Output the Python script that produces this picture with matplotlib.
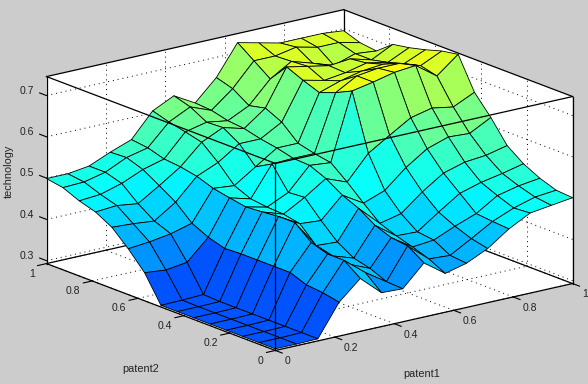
#surface of technology against patent1 and patent2
import numpy as np
import matplotlib
matplotlib.use('Agg')
import matplotlib.pyplot as plt
from matplotlib.colors import LinearSegmentedColormap
from mpl_toolkits.mplot3d import proj3d
from mpl_toolkits.mplot3d.art3d import Poly3DCollection

plt.rcParams['font.family'] = ['Liberation Sans', 'DejaVu Sans']

patent1 = [0, 0.0714, 0.1429, 0.2143, 0.2857, 0.3571, 0.4286, 0.5, 0.5714, 0.6429, 0.7143, 0.7857, 0.8571, 0.9286, 1]
patent2 = [0, 0.0714, 0.1429, 0.2143, 0.2857, 0.3571, 0.4286, 0.5, 0.5714, 0.6429, 0.7143, 0.7857, 0.8571, 0.9286, 1]

#rows are patent2, columns are patent1
technology = [
    [.297, .297, .298, .375, .421, .375, .373, .424, .387, .400, .424, .460, .487, .494, .501],
    [.297, .297, .298, .383, .450, .409, .375, .450, .407, .404, .433, .463, .484, .499, .504],
    [.297, .297, .298, .387, .450, .414, .392, .455, .421, .426, .448, .467, .499, .511, .518],
    [.297, .297, .298, .402, .463, .419, .402, .470, .433, .431, .467, .501, .516, .526, .538],
    [.297, .297, .298, .402, .496, .429, .426, .496, .448, .460, .501, .535, .550, .555, .567],
    [.297, .297, .298, .402, .496, .467, .463, .513, .482, .501, .545, .579, .596, .593, .620],
    [.297, .297, .298, .402, .492, .475, .504, .538, .518, .576, .608, .639, .651, .642, .666],
    [.297, .298, .300, .400, .489, .477, .501, .555, .550, .712, .722, .734, .739, .702, .743],
    [.361, .356, .363, .412, .496, .482, .555, .557, .557, .693, .722, .729, .729, .712, .736],
    [.404, .409, .417, .431, .504, .499, .533, .567, .567, .678, .695, .707, .712, .702, .724],
    [.441, .438, .433, .467, .518, .540, .574, .574, .603, .693, .681, .688, .700, .690, .714],
    [.463, .467, .460, .492, .526, .574, .598, .584, .622, .710, .700, .690, .695, .681, .707],
    [.475, .479, .494, .516, .530, .584, .596, .588, .613, .666, .697, .681, .664, .681, .676],
    [.492, .494, .506, .530, .542, .593, .618, .598, .639, .695, .695, .705, .693, .693, .681],
    [.499, .499, .506, .528, .547, .605, .630, .601, .651, .724, .712, .700, .700, .700, .695],
]

xy_ticks = [0, 0.2, 0.4, 0.6, 0.8, 1]
xy_labels = ['0', '0.2', '0.4', '0.6', '0.8', '1']
z_ticks = [0.3, 0.4, 0.5, 0.6, 0.7]
z_labels = ['0.3', '0.4', '0.5', '0.6', '0.7']

zmin = 0.293
zmax = 0.746

fig = plt.figure(figsize=(5.88, 3.84), dpi=100, facecolor='#cccccc')
ax = fig.add_axes([7.6/588, -98/384, 1, 588/384], projection='3d', proj_type='ortho')
ax.computed_zorder = False
ax.patch.set_alpha(0)
ax.set_xticks([])
ax.set_yticks([])
ax.set_zticks([])
ax.set_axis_off()
ax.view_init(elev=17.0, azim=-127.6)
ax.set_xlim(0, 1, view_margin=0)
ax.set_ylim(0, 1, view_margin=0)
ax.set_zlim(zmin, zmax, view_margin=0)
ax.set_box_aspect((375, 375, 195.5), zoom=0.9334)

#back walls and floor
walls = [
    [(0, 1, zmin), (1, 1, zmin), (1, 1, zmax), (0, 1, zmax)],
    [(1, 0, zmin), (1, 1, zmin), (1, 1, zmax), (1, 0, zmax)],
    [(0, 0, zmin), (1, 0, zmin), (1, 1, zmin), (0, 1, zmin)],
]
ax.add_collection3d(Poly3DCollection(walls, facecolor='white', edgecolor='none', zorder=1))

#dotted grid on the walls
dots = (0, (1, 4))
for t in xy_ticks:
    ax.plot([t, t], [0, 1], [zmin, zmin], color='k', lw=0.7, ls=dots, zorder=2)
    ax.plot([0, 1], [t, t], [zmin, zmin], color='k', lw=0.7, ls=dots, zorder=2)
    ax.plot([t, t], [1, 1], [zmin, zmax], color='k', lw=0.7, ls=dots, zorder=2)
    ax.plot([1, 1], [t, t], [zmin, zmax], color='k', lw=0.7, ls=dots, zorder=2)
for t in z_ticks:
    ax.plot([0, 1], [1, 1], [t, t], color='k', lw=0.7, ls=dots, zorder=2)
    ax.plot([1, 1], [0, 1], [t, t], color='k', lw=0.7, ls=dots, zorder=2)

#box edges behind the surface
ax.plot([0, 1], [1, 1], [zmin, zmin], color='k', lw=0.9, zorder=3)
ax.plot([1, 1], [0, 1], [zmin, zmin], color='k', lw=0.9, zorder=3)
ax.plot([1, 1], [1, 1], [zmin, zmax], color='k', lw=0.9, zorder=3)
ax.plot([0, 1], [1, 1], [zmax, zmax], color='k', lw=0.9, zorder=3)
ax.plot([1, 1], [0, 1], [zmax, zmax], color='k', lw=0.9, zorder=3)
ax.plot([0, 0], [1, 1], [zmin, zmax], color='k', lw=0.9, zorder=3)
ax.plot([1, 1], [0, 0], [zmin, zmax], color='k', lw=0.9, zorder=3)

X, Y = np.meshgrid(patent1, patent2)
Z = np.array(technology)
#the older jet map, it reaches pure yellow sooner than the matplotlib one
cmap = LinearSegmentedColormap.from_list('old_jet', [(0, (0, 0, 0.5)), (0.125, (0, 0, 1)), (0.375, (0, 1, 1)),
                                                     (0.625, (1, 1, 0)), (0.875, (1, 0, 0)), (1, (0.5, 0, 0))], N=64)
colors = cmap(plt.Normalize(0.0775, 1.137)(Z))
ax.plot_surface(X, Y, Z, rstride=1, cstride=1, facecolors=colors, shade=False,
                edgecolor='k', linewidth=0.6, zorder=4)

#front edges are drawn over the surface
ax.plot([0, 0], [0, 0], [zmin, zmax], color='k', lw=0.9, zorder=5)
ax.plot([0, 1], [0, 0], [zmax, zmax], color='k', lw=0.9, zorder=5)
ax.plot([0, 0], [0, 1], [zmax, zmax], color='k', lw=0.9, zorder=5)
ax.plot([0, 1], [0, 0], [zmin, zmin], color='k', lw=0.9, zorder=5)
ax.plot([0, 0], [0, 1], [zmin, zmin], color='k', lw=0.9, zorder=5)


def label(x, y, z, s, ha):
    #plain 2D text at the projected place of a 3D point
    xp, yp, _ = proj3d.proj_transform(x, y, z, ax.get_proj())
    ax.text2D(xp, yp, s, transform=ax.transData, ha=ha, va='center', fontsize=7.5, color='#222222', zorder=6)


#ticks and tick labels
for t, s in zip(xy_ticks, xy_labels):
    ax.plot([t, t], [0, -0.03], [zmin, zmin], color='k', lw=0.8, zorder=5)
    ax.plot([0, -0.03], [t, t], [zmin, zmin], color='k', lw=0.8, zorder=5)
    label(t, -0.04, zmin - 0.018, s, 'left')
    label(-0.04, t, zmin - 0.018, s, 'right')
for t, s in zip(z_ticks, z_labels):
    ax.plot([0, 0], [1, 1.03], [t, t], color='k', lw=0.8, zorder=5)
    label(0, 1.055, t, s, 'right')

fig.text(141/588, 1 - 369/384, 'patent2', ha='center', va='center', fontsize=7.8, color='#222222')
fig.text(422/588, 1 - 374/384, 'patent1', ha='center', va='center', fontsize=7.8, color='#222222')
fig.text(9/588, 1 - 171/384, 'technology', ha='center', va='center', rotation=90, fontsize=7.8, color='#222222')

fig.savefig('out.png', dpi=100, facecolor=fig.get_facecolor())
